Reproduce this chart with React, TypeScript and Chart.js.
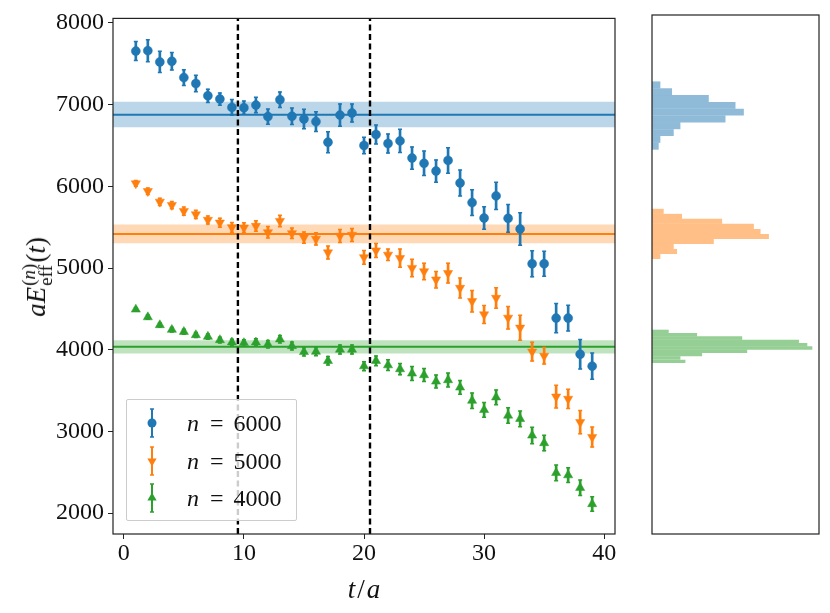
import React, { useEffect, useRef } from 'react';
import { Chart, registerables } from 'chart.js';

// Register all Chart.js components
Chart.register(...registerables);

// ---- data ----
const tValues = [
    1, 2, 3, 4, 5, 6, 7, 8, 9, 10, 11, 12, 13, 14, 15, 16, 17, 18, 19, 20,
    21, 22, 23, 24, 25, 26, 27, 28, 29, 30, 31, 32, 33, 34, 35, 36, 37, 38, 39,
];

const energy6000 = [
    7655, 7660, 7522, 7530, 7331, 7258, 7108, 7068, 6966, 6962, 6994, 6853, 7060, 6857, 6824, 6792, 6540, 6872, 6897, 6500,
    6634, 6524, 6556, 6346, 6281, 6187, 6317, 6041, 5801, 5612, 5883, 5608, 5478, 5052, 5052, 4387, 4387, 3945, 3799,
];
const error6000 = [
    116, 134, 130, 107, 97, 101, 81, 75, 97, 81, 95, 93, 95, 101, 118, 122, 128, 136, 111, 100,
    116, 117, 142, 136, 150, 136, 156, 158, 158, 138, 166, 170, 200, 160, 152, 178, 158, 180, 160,
];

const energy5000 = [
    6035, 5940, 5810, 5770, 5697, 5656, 5588, 5555, 5498, 5494, 5515, 5437, 5575, 5425, 5372, 5356, 5190, 5393, 5405, 5131,
    5214, 5162, 5121, 5000, 4959, 4858, 4938, 4756, 4594, 4432, 4634, 4391, 4269, 3977, 3925, 3426, 3398, 3113, 2931,
];
const error5000 = [
    35, 40, 45, 45, 50, 50, 50, 55, 60, 60, 65, 70, 70, 65, 70, 75, 80, 80, 80, 85,
    85, 71, 112, 107, 101, 101, 122, 122, 132, 110, 126, 138, 152, 116, 101, 138, 118, 142, 122,
];

const energy4000 = [
    4493, 4399, 4302, 4245, 4220, 4180, 4160, 4119, 4091, 4083, 4091, 4067, 4128, 4046, 3973, 3977, 3864, 4002, 4002, 3799,
    3864, 3811, 3763, 3710, 3690, 3612, 3629, 3539, 3377, 3264, 3418, 3195, 3154, 2951, 2858, 2493, 2465, 2311, 2112,
];
const error4000 = [
    20, 25, 25, 28, 30, 30, 32, 35, 38, 40, 42, 45, 45, 48, 50, 50, 52, 55, 55, 55,
    60, 65, 70, 85, 80, 80, 85, 85, 95, 90, 90, 95, 95, 100, 95, 95, 90, 95, 90,
];

// fitted plateau values (centre, lower, upper) for n = 6000, 5000, 4000
const fitMean = [6877, 5417, 4038];
const fitLow = [6723, 5303, 3953];
const fitHigh = [7035, 5534, 4116];

// bootstrap histograms (bin centres top to bottom, counts)
const histBins6000 = [7206, 7123, 7040, 6957, 6874, 6791, 6708, 6625, 6542, 6459];
const histCounts6000 = [5, 12, 34, 50, 55, 44, 17, 13, 5, 4];
const histBins5000 = [5668, 5607, 5546, 5485, 5424, 5363, 5302, 5241, 5180, 5119];
const histCounts5000 = [7, 18, 42, 61, 65, 70, 37, 13, 15, 5];
const histBins4000 = [4209, 4169, 4128, 4088, 4047, 4007, 3966, 3926, 3885, 3845];
const histCounts4000 = [10, 27, 54, 88, 93, 96, 57, 30, 17, 20];

const fitWindow = [9.5, 20.5];
const xTicks = [0, 10, 20, 30, 40];
const yTicks = [2000, 3000, 4000, 5000, 6000, 7000, 8000];
const xLimits = [-0.9, 40.9];
const yLimits = [1745, 8055];
const histLimit = 100;
const legendLabels = ['6000', '5000', '4000'];

const FONT = '"Liberation Serif", "DejaVu Serif", serif';

const SERIES = [
    { values: energy6000, errors: error6000, color: '#1f77b4', band: 'rgba(31,119,180,0.3)', hist: 'rgba(31,119,180,0.5)', pointStyle: 'circle', rotation: 0, radius: 4.5 },
    { values: energy5000, errors: error5000, color: '#ff7f0e', band: 'rgba(255,127,14,0.3)', hist: 'rgba(255,127,14,0.5)', pointStyle: 'triangle', rotation: 180, radius: 5.3 },
    { values: energy4000, errors: error4000, color: '#2ca02c', band: 'rgba(44,160,44,0.3)', hist: 'rgba(44,160,44,0.5)', pointStyle: 'triangle', rotation: 0, radius: 5.3 },
];
const HIST = [
    { bins: histBins6000, counts: histCounts6000 },
    { bins: histBins5000, counts: histCounts5000 },
    { bins: histBins4000, counts: histCounts4000 },
];

// matplotlib-style box around the axes
const framePlugin = {
    id: 'frame',
    afterDraw(chart: Chart) {
        const { ctx, chartArea: a } = chart;
        ctx.save();
        ctx.strokeStyle = '#222';
        ctx.lineWidth = 1.2;
        ctx.strokeRect(a.left, a.top, a.right - a.left, a.bottom - a.top);
        ctx.restore();
    },
};

const tickFont = { family: FONT, size: 24 };

const MainChart: React.FC = () => {
    const canvasRef = useRef<HTMLCanvasElement>(null);
    const chartInstance = useRef<Chart | null>(null);

    useEffect(() => {
        if (!canvasRef.current) return;
        const ctx = canvasRef.current.getContext('2d');
        if (!ctx) return;

        const dashed = fitWindow.map(x => ({
            type: 'line' as const,
            data: [{ x, y: yLimits[0] }, { x, y: yLimits[1] }],
            borderColor: '#000',
            borderWidth: 2.4,
            borderDash: [6, 3.5],
            pointRadius: 0,
            fill: false,
        }));

        const markers = SERIES.map(s => ({
            type: 'scatter' as const,
            data: tValues.map((t, i) => ({ x: t, y: s.values[i] })),
            pointStyle: s.pointStyle,
            rotation: s.rotation,
            pointRadius: s.radius,
            backgroundColor: s.color,
            borderColor: s.color,
            borderWidth: 0.5,
        }));

        const caps = SERIES.map(s => ({
            type: 'scatter' as const,
            data: tValues.flatMap((t, i) => [
                { x: t, y: s.values[i] + s.errors[i] },
                { x: t, y: s.values[i] - s.errors[i] },
            ]),
            pointStyle: 'line',
            pointRadius: 2,
            borderColor: s.color,
            borderWidth: 1.5,
        }));

        const errorBars = SERIES.map(s => ({
            type: 'bar' as const,
            data: tValues.map((t, i) => ({ x: t, y: [s.values[i] - s.errors[i], s.values[i] + s.errors[i]] })),
            backgroundColor: s.color,
            borderWidth: 0,
            barThickness: 2,
            grouped: false,
        }));

        const meanLines = SERIES.map((s, k) => ({
            type: 'line' as const,
            data: xLimits.map(x => ({ x, y: fitMean[k] })),
            borderColor: s.color,
            borderWidth: 2,
            pointRadius: 0,
            fill: false,
        }));

        const bands = SERIES.flatMap((s, k) => [
            {
                type: 'line' as const,
                data: xLimits.map(x => ({ x, y: fitLow[k] })),
                borderWidth: 0,
                pointRadius: 0,
                fill: false,
            },
            {
                type: 'line' as const,
                data: xLimits.map(x => ({ x, y: fitHigh[k] })),
                borderWidth: 0,
                pointRadius: 0,
                backgroundColor: s.band,
                fill: '-1',
            },
        ]);

        if (chartInstance.current) chartInstance.current.destroy();

        chartInstance.current = new Chart(ctx, {
            type: 'scatter',
            data: {
                datasets: [...dashed, ...markers, ...caps, ...errorBars, ...meanLines, ...bands] as any,
            },
            options: {
                responsive: false,
                animation: false,
                layout: { padding: { left: 0, top: 15, right: 15, bottom: 0 } },
                plugins: { legend: { display: false }, tooltip: { enabled: false } },
                scales: {
                    x: {
                        type: 'linear',
                        min: xLimits[0],
                        max: xLimits[1],
                        offset: false,
                        grid: { offset: false, drawOnChartArea: false, drawTicks: true, tickLength: 5, color: '#222', lineWidth: 1 },
                        border: { display: false },
                        ticks: { color: '#111', font: tickFont, padding: 0, maxRotation: 0, callback: (v: number | string) => String(v) },
                        afterBuildTicks: (axis: any) => { axis.ticks = xTicks.map(value => ({ value })); },
                        afterFit: (axis: any) => { axis.height = 79; },
                    },
                    y: {
                        type: 'linear',
                        min: yLimits[0],
                        max: yLimits[1],
                        offset: false,
                        grid: { offset: false, drawOnChartArea: false, drawTicks: true, tickLength: 5, color: '#222', lineWidth: 1 },
                        border: { display: false },
                        ticks: { color: '#111', font: tickFont, padding: 4, callback: (v: number | string) => String(v) },
                        afterBuildTicks: (axis: any) => { axis.ticks = yTicks.map(value => ({ value })); },
                        afterFit: (axis: any) => { axis.width = 113; },
                    },
                },
            },
            plugins: [framePlugin],
        });

        return () => {
            if (chartInstance.current) chartInstance.current.destroy();
            chartInstance.current = null;
        };
    }, []);

    return <canvas ref={canvasRef} width={630} height={613} style={{ position: 'absolute', left: 0, top: 0 }} />;
};

const HistChart: React.FC = () => {
    const canvasRef = useRef<HTMLCanvasElement>(null);
    const chartInstance = useRef<Chart | null>(null);

    useEffect(() => {
        if (!canvasRef.current) return;
        const ctx = canvasRef.current.getContext('2d');
        if (!ctx) return;

        if (chartInstance.current) chartInstance.current.destroy();

        // same stack for all three so bars are not split into groups,
        // 'flex' thickness so each histogram fills its own bin width
        chartInstance.current = new Chart(ctx, {
            type: 'bar',
            data: {
                datasets: HIST.map((h, k) => ({
                    data: h.bins.map((b, i) => ({ x: h.counts[i], y: b })),
                    stack: 'hist',
                    backgroundColor: SERIES[k].hist,
                    borderWidth: 0,
                    inflateAmount: 0,
                    barThickness: 'flex',
                    categoryPercentage: 1,
                    barPercentage: 1,
                })) as any,
            },
            options: {
                indexAxis: 'y',
                responsive: false,
                animation: false,
                layout: { padding: { left: 12, top: 15, right: 11, bottom: 79 } },
                plugins: { legend: { display: false }, tooltip: { enabled: false } },
                scales: {
                    x: { type: 'linear', min: 0, max: histLimit, display: false, stacked: false },
                    y: {
                        type: 'linear',
                        min: yLimits[0],
                        max: yLimits[1],
                        display: false,
                        offset: false,
                        grid: { offset: false },
                    },
                },
            },
            plugins: [framePlugin],
        });

        return () => {
            if (chartInstance.current) chartInstance.current.destroy();
            chartInstance.current = null;
        };
    }, []);

    return <canvas ref={canvasRef} width={190} height={613} style={{ position: 'absolute', left: 640, top: 0 }} />;
};

const LegendMarker: React.FC<{ idx: number }> = ({ idx }) => {
    const c = SERIES[idx].color;
    return (
        <svg width={20} height={32} style={{ position: 'absolute', left: 15, top: -16 }}>
            <line x1={10} y1={2} x2={10} y2={30} stroke={c} strokeWidth={2} />
            <line x1={8} y1={2} x2={12} y2={2} stroke={c} strokeWidth={1.5} />
            <line x1={8} y1={30} x2={12} y2={30} stroke={c} strokeWidth={1.5} />
            {idx === 0 && <circle cx={10} cy={16} r={4.5} fill={c} />}
            {idx === 1 && <polygon points="5.4,13.4 14.6,13.4 10,21.4" fill={c} />}
            {idx === 2 && <polygon points="5.4,18.6 14.6,18.6 10,10.6" fill={c} />}
        </svg>
    );
};

const App: React.FC = () => {
    const rowTops = [23, 61, 98];
    return (
        <div style={{ position: 'absolute', left: 0, top: 0, width: 830, height: 613, background: '#fff', fontFamily: FONT, color: '#111', overflow: 'hidden' }}>
            <MainChart />
            <HistChart />

            {/* y axis label */}
            <div
                style={{
                    position: 'absolute', left: 37, top: 277, fontSize: 27, whiteSpace: 'nowrap', lineHeight: 1,
                    transform: 'translate(-50%, -50%) rotate(-90deg)',
                }}
            >
                <i>a</i><i>E</i>
                <span style={{ display: 'inline-block', verticalAlign: -7, fontSize: 19, lineHeight: '17px', marginLeft: 1, marginRight: 1 }}>
                    (<i>n</i>)<br />eff
                </span>
                (<i>t</i>)
            </div>

            {/* x axis label */}
            <div style={{ position: 'absolute', left: 364, top: 589, fontSize: 27, whiteSpace: 'nowrap', lineHeight: 1, transform: 'translate(-50%, -50%)' }}>
                <i>t</i><span style={{ margin: '0 2px' }}>/</span><i>a</i>
            </div>

            {/* legend */}
            <div
                style={{
                    position: 'absolute', left: 126, top: 399, width: 171, height: 122, boxSizing: 'border-box',
                    background: 'rgba(255,255,255,0.8)', border: '1px solid #cccccc', borderRadius: 2,
                }}
            >
                {legendLabels.map((lab, i) => (
                    <div key={lab} style={{ position: 'absolute', left: 0, top: rowTops[i], height: 0 }}>
                        <LegendMarker idx={i} />
                        <span style={{ position: 'absolute', left: 60, top: -14, fontSize: 24, lineHeight: '28px', whiteSpace: 'nowrap' }}>
                            <i style={{ marginRight: 1 }}>n</i><span style={{ margin: '0 10px' }}>=</span>{lab}
                        </span>
                    </div>
                ))}
            </div>
        </div>
    );
};

export default App;
